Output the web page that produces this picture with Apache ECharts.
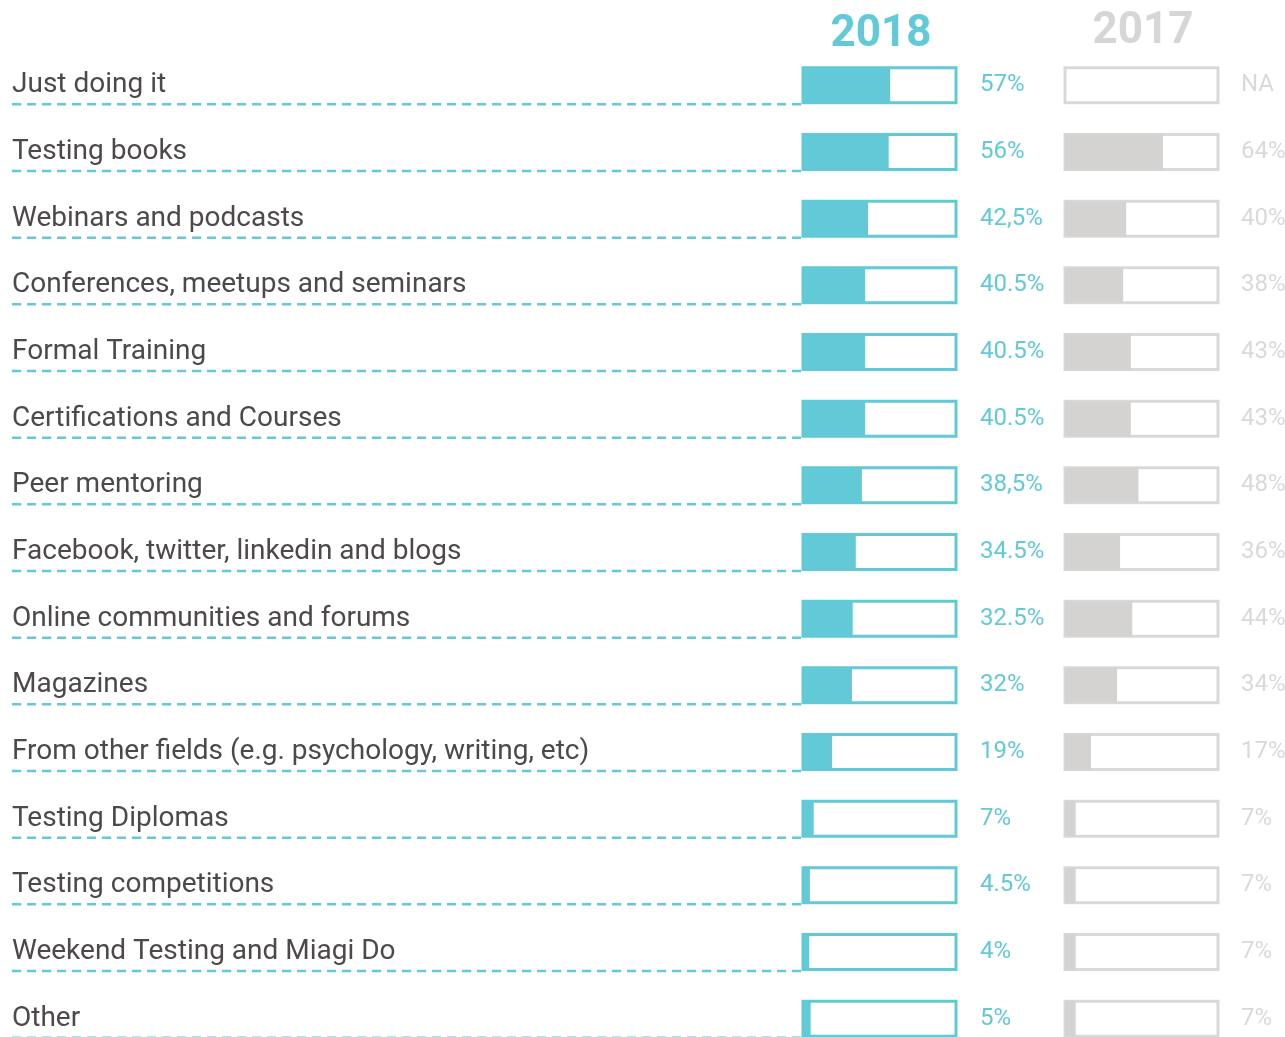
<!DOCTYPE html>
<html>
<head>
<meta charset="utf-8">
<script src="https://cdn.jsdelivr.net/npm/echarts@6/dist/echarts.min.js"></script>
<style>html,body{margin:0;padding:0;background:#fff}#chart{width:1285px;height:1037px}</style>
</head>
<body>
<div id="chart"></div>
<script>
const categories = ["Just doing it","Testing books","Webinars and podcasts","Conferences, meetups and seminars","Formal Training","Certifications and Courses","Peer mentoring","Facebook, twitter, linkedin and blogs","Online communities and forums","Magazines","From other fields (e.g. psychology, writing, etc)","Testing Diplomas","Testing competitions","Weekend Testing and Miagi Do","Other"];
const values2018 = [57,56,42.5,40.5,40.5,40.5,38.5,34.5,32.5,32,19,7,4.5,4,5];
const labels2018 = ["57%","56%","42,5%","40.5%","40.5%","40.5%","38,5%","34.5%","32.5%","32%","19%","7%","4.5%","4%","5%"];
const values2017 = [null,64,40,38,43,43,48,36,44,34,17,7,7,7,7];
const labels2017 = ["NA","64%","40%","38%","43%","43%","48%","36%","44%","34%","17%","7%","7%","7%","7%"];
const seriesNames = ["2018","2017"];

const TEAL = '#62c9d6', GRAY = '#d4d3d1', GRAYB = '#d9d9d9', GRAYT = '#d6d6d6', DARK = '#4d4949';
const FONT = 'Roboto';
const gridTop = 52, gridHeight = 1000;

const chart = echarts.init(document.getElementById('chart'));
chart.setOption({
  animation: false,
  title: [
    {text: seriesNames[0], left: 876, top: 8, textAlign: 'center', textStyle: {color: TEAL, fontSize: 44, fontWeight: 'bold', fontFamily: FONT}},
    {text: seriesNames[1], left: 1138, top: 5, textAlign: 'center', textStyle: {color: GRAYT, fontSize: 44, fontWeight: 'bold', fontFamily: FONT}}
  ],
  grid: [
    {left: 12, width: 790, top: gridTop, height: gridHeight, outerBoundsMode: 'none', containLabel: false},
    {left: 803, width: 153, top: gridTop, height: gridHeight, outerBoundsMode: 'none', containLabel: false},
    {left: 1065, width: 153, top: gridTop, height: gridHeight, outerBoundsMode: 'none', containLabel: false}
  ],
  xAxis: [
    {gridIndex: 0, type: 'value', min: 0, max: 1, show: false},
    {gridIndex: 1, type: 'value', min: 0, max: 100, show: false},
    {gridIndex: 2, type: 'value', min: 0, max: 100, show: false}
  ],
  yAxis: [
    {gridIndex: 0, type: 'category', data: categories, inverse: true, position: 'left',
     axisLine: {show: false}, axisTick: {show: false},
     axisLabel: {inside: true, interval: 0, margin: 0, align: 'left', verticalAlign: 'middle', padding: [0,0,14,0],
       color: DARK, fontSize: 28, fontFamily: FONT}},
    {gridIndex: 1, type: 'category', data: labels2018, inverse: true, position: 'right',
     axisLine: {show: false}, axisTick: {show: false},
     axisLabel: {interval: 0, margin: 24, color: TEAL, fontSize: 24, fontFamily: FONT}},
    {gridIndex: 2, type: 'category', data: labels2017, inverse: true, position: 'right',
     axisLine: {show: false}, axisTick: {show: false},
     axisLabel: {interval: 0, margin: 23, color: GRAYB, fontSize: 24, fontFamily: FONT}}
  ],
  series: [
    {type: 'custom', xAxisIndex: 0, yAxisIndex: 0, silent: true,
     data: categories.map((c, i) => [i]),
     renderItem: function (params, api) {
       const idx = api.value(0);
       const p0 = api.coord([0, idx]);
       const p1 = api.coord([1, idx]);
       return {type: 'line', shape: {x1: p0[0], y1: p0[1] + 19, x2: p1[0], y2: p1[1] + 19},
               style: {stroke: TEAL, lineWidth: 2.5, lineDash: [9, 6]}};
     }},
    {name: seriesNames[0], type: 'bar', xAxisIndex: 1, yAxisIndex: 1, data: values2018, barWidth: 35,
     itemStyle: {color: TEAL}, showBackground: true,
     backgroundStyle: {color: '#fff', borderColor: TEAL, borderWidth: 3}},
    {name: seriesNames[1], type: 'bar', xAxisIndex: 2, yAxisIndex: 2, data: values2017, barWidth: 35,
     itemStyle: {color: GRAY}, showBackground: true,
     backgroundStyle: {color: '#fff', borderColor: GRAYB, borderWidth: 3}}
  ]
});
</script>
</body>
</html>
